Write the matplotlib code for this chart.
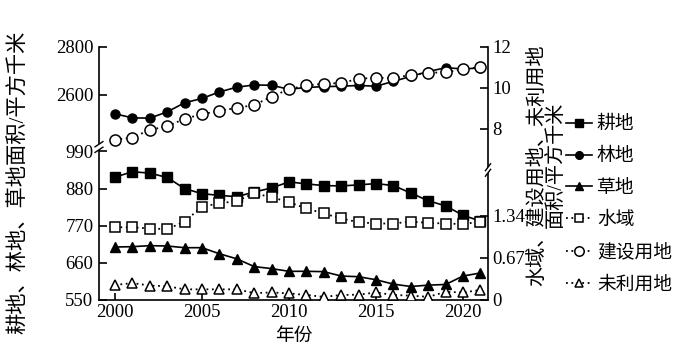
import numpy as np
import matplotlib
matplotlib.use("Agg")
import matplotlib.pyplot as plt
from matplotlib.transforms import ScaledTranslation

plt.rcParams['font.family'] = ['Liberation Serif', 'Noto Sans CJK SC', 'DejaVu Sans']
plt.rcParams['axes.unicode_minus'] = False

years = list(range(2000, 2022))
# left axis (km²)
gengdi = [914, 930, 926, 913, 880, 865, 860, 856, 870, 882, 900, 894, 889, 888, 891, 895, 889, 867, 844, 829, 801, 784]
lindi = [2520, 2503, 2502, 2528, 2566, 2584, 2611, 2631, 2640, 2639, 2622, 2630, 2633, 2635, 2638, 2635, 2655, 2676, 2696, 2712, 2707, 2711]
caodi = [707, 708, 711, 710, 705, 705, 687, 672, 649, 643, 635, 635, 634, 621, 619, 610, 597, 590, 594, 596, 621, 630]
# right axis (km²)
shuiyu = [1.16, 1.16, 1.14, 1.13, 1.25, 1.49, 1.54, 1.58, 1.70, 1.64, 1.56, 1.46, 1.38, 1.30, 1.24, 1.22, 1.22, 1.25, 1.23, 1.22, 1.21, 1.25]
jianshe = [7.46, 7.55, 7.94, 8.10, 8.48, 8.69, 8.87, 9.00, 9.15, 9.55, 9.92, 10.10, 10.18, 10.22, 10.42, 10.48, 10.45, 10.62, 10.71, 10.75, 10.88, 11.00]
weili = [0.24, 0.27, 0.23, 0.22, 0.17, 0.17, 0.17, 0.17, 0.11, 0.12, 0.105, 0.08, 0.05, 0.08, 0.085, 0.12, 0.08, 0.07, 0.05, 0.13, 0.12, 0.16]

left_ticks = [550, 660, 770, 880, 990, 2600, 2800]
left_ticklabels = ['550', '660', '770', '880', '990', '2600', '2800']
right_ticks = [0, 0.67, 1.34, 8, 10, 12]
right_ticklabels = ['0', '0.67', '1.34', '8', '10', '12']
x_ticks = [2000, 2005, 2010, 2015, 2020]

labels = ['耕地', '林地', '草地', '水域', '建设用地', '未利用地']


def piecewise(xp, fp):
    xp = np.asarray(xp, float)
    fp = np.asarray(fp, float)

    def mk(a, b):
        s0 = (b[1] - b[0]) / (a[1] - a[0])
        s1 = (b[-1] - b[-2]) / (a[-1] - a[-2])

        def f(v):
            v = np.asarray(v, float)
            out = np.interp(v, a, b)
            out = np.where(v < a[0], b[0] + (v - a[0]) * s0, out)
            out = np.where(v > a[-1], b[-1] + (v - a[-1]) * s1, out)
            return out
        return f
    return mk(xp, fp), mk(fp, xp)


W, H = 684, 354
fig = plt.figure(figsize=(W / 100, H / 100), dpi=100)
ax_h = 258.0
ax = fig.add_axes([99 / W, (H - 300) / H, 389 / W, ax_h / H])
ax2 = ax.twinx()

fl, il = piecewise([550, 990, 2400, 2800], [0, 148.5, 157.4, 253.4])
fr, ir = piecewise([0, 2.0, 6.2, 12], [0, 125.4, 134.6, 253.5])
ax.set_yscale('function', functions=(fl, il))
ax2.set_yscale('function', functions=(fr, ir))

ax.set_ylim(550, float(il(ax_h)))
ax2.set_ylim(0, float(ir(ax_h)))
ax.set_xlim(2000 - 16 / 17.4, 2000 + 373 / 17.4)

solid = dict(color='black', lw=1.2, linestyle='-')
dotted = dict(color='black', lw=1.3, linestyle=(0, (1, 2)))
l1, = ax.plot(years, gengdi, marker='s', ms=6.5, mfc='black', mec='black', zorder=3, **solid)
l2, = ax.plot(years, lindi, marker='o', ms=6.5, mfc='black', mec='black', zorder=3, **solid)
l3, = ax.plot(years, caodi, marker='^', ms=7, mfc='black', mec='black', zorder=3, **solid)
l4, = ax2.plot(years, shuiyu, marker='s', ms=7, mfc='white', mec='black', mew=1.1, zorder=3, **dotted)
l5, = ax2.plot(years, jianshe, marker='o', ms=8, mfc='white', mec='black', mew=1.1, zorder=3, **dotted)
l6, = ax2.plot(years, weili, marker='^', ms=7.5, mfc='white', mec='black', mew=1.1, zorder=3, **dotted)

for a in (ax, ax2):
    a.spines['top'].set_visible(False)
    for s in a.spines.values():
        s.set_linewidth(1.2)
ax.spines['right'].set_visible(False)
ax2.spines['left'].set_visible(False)
ax2.spines['bottom'].set_visible(False)
ax.spines['left'].set_bounds(550, 2800)
ax2.spines['right'].set_bounds(0, 12)

ax.set_yticks(left_ticks)
ax.set_yticklabels(left_ticklabels)
ax2.set_yticks(right_ticks)
ax2.set_yticklabels(right_ticklabels)
ax.set_xticks(x_ticks)
ax.set_xticklabels([str(x) for x in x_ticks])
ax.yaxis.set_minor_locator(matplotlib.ticker.NullLocator())
ax2.yaxis.set_minor_locator(matplotlib.ticker.NullLocator())
ax.tick_params(axis='y', direction='in', length=5.5, width=1.2, labelsize=13.5, pad=4)
ax.tick_params(axis='x', direction='in', length=5, width=1.2, labelsize=13.5, pad=3)
ax2.tick_params(axis='y', direction='in', length=5.5, width=1.2, labelsize=13.5, pad=3)
ax.set_xlabel('年份', fontsize=13.5, labelpad=5)


def brk(a, xf, yf, dx=0.045, dy=0.03, g=0.028):
    tr = fig.dpi_scale_trans + ScaledTranslation(xf, yf, a.transAxes)
    a.fill([-dx, dx, dx, -dx], [-g - dy, -g + dy, g + dy, g - dy], color='white',
           transform=tr, clip_on=False, zorder=6, lw=0)
    for s in (-g, g):
        a.plot([-dx, dx], [s - dy, s + dy], color='black', lw=1.0, transform=tr,
               clip_on=False, zorder=7, solid_capstyle='butt')


brk(ax, 0.0, 153 / ax_h)
brk(ax2, 1.0, 130 / ax_h, dx=0.03, dy=0.04)

fig.text(19 / W, 1 - 182 / H, '耕地、林地、草地面积/平方千米', rotation=90,
         ha='center', va='center', fontsize=15.3)
fig.text(547 / W, 1 - 165 / H, '水域、建设用地、未利用地\n面积/平方千米', rotation=90,
         ha='center', va='center', fontsize=14.5, multialignment='center', linespacing=1.0)

fig.legend([l1, l2, l3, l4, l5, l6], labels, loc='upper left',
           bbox_to_anchor=(566 / W, 1 - 116 / H), frameon=False, fontsize=13.5,
           handlelength=1.4, handletextpad=0.25, labelspacing=0.78,
           borderpad=0, borderaxespad=0, markerscale=0.85)

fig.savefig('out.png', dpi=100)
